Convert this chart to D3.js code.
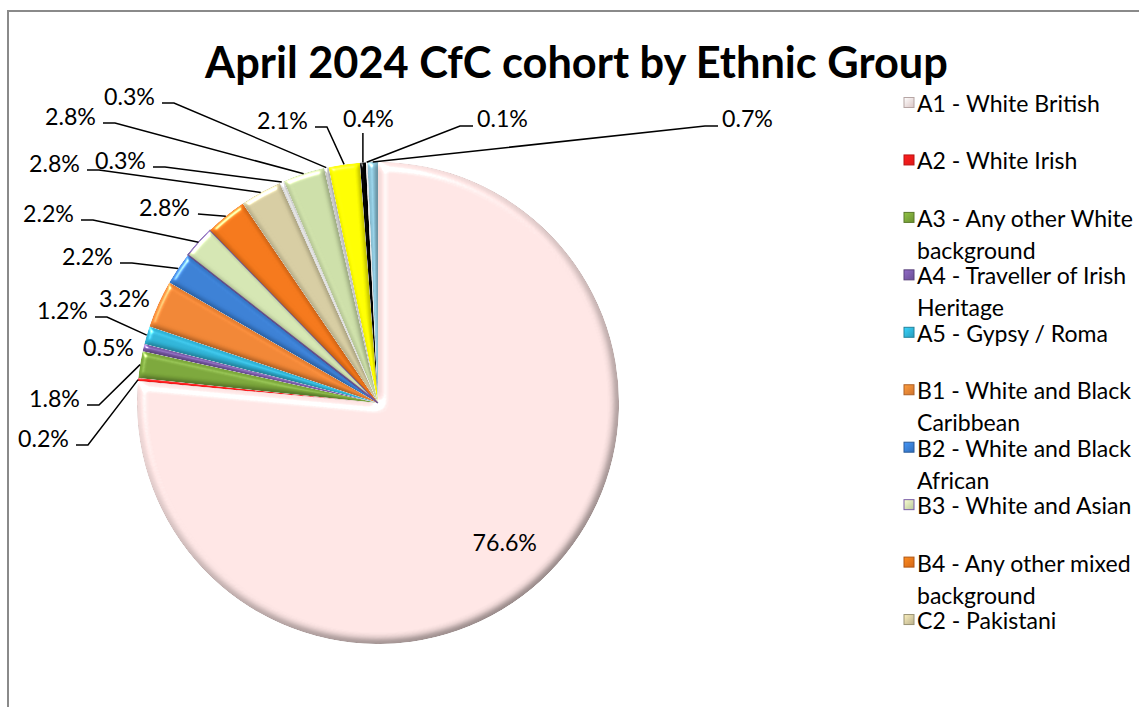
<!DOCTYPE html>
<html>
<head>
<meta charset="utf-8">
<script src="https://cdn.jsdelivr.net/npm/d3@7"></script>
<style>
  html, body { margin: 0; padding: 0; background: #ffffff; }
  svg { display: block; font-family: Lato, "Liberation Sans", sans-serif; }
</style>
</head>
<body>
<svg id="chart" width="1139" height="707"></svg>
<script>
// ---- data -------------------------------------------------------------
const titleText = "April 2024 CfC cohort by Ethnic Group";
const codes = ["A1", "A2", "A3", "A4", "A5", "B1", "B2", "B3", "B4",
               "C2", "C3", "C4", "D1", "D2", "D3", "E1", "E2"];
const groups = ["White British", "White Irish", "Any other White background",
                "Traveller of Irish Heritage", "Gypsy / Roma",
                "White and Black Caribbean", "White and Black African",
                "White and Asian", "Any other mixed background", "Pakistani",
                "Bangladeshi", "Any other Asian background", "Caribbean",
                "African", "Any other Black background", "Chinese",
                "Any other ethnic group"];
const shares = [76.6, 0.2, 1.8, 0.5, 1.2, 3.2, 2.2, 2.2, 2.8,
                2.8, 0.3, 2.8, 0.3, 2.1, 0.4, 0.1, 0.7];
const colours = ["#fbe3e2", "#ff1a1a", "#7aa53a", "#7a5aa8", "#2fb3d6",
                 "#ee8434", "#3a7ed2", "#d2e3b0", "#f2761a", "#d4caa0",
                 "#e2e2e2", "#cadca6", "#c4c4c4", "#ffff00", "#000000",
                 "#f0f0f0", "#8cc4d9"];
const edges = [null, null, null, null, null, null, null, "#7b5ea7", null,
               null, null, null, null, null, null, null, null];
const legendShown = 10;

// ---- layout -----------------------------------------------------------
const W = 1139, H = 707;
const cx = 378, cy = 403, R = 241;
// data label spots: [left x of text, middle y, leader style]
// leader style: "L" left label, "R" right label, "V" vertical, "H" short, "-" none, "in" inside
const labelSpots = [
  [null, null, "in"], [18, 438, "L"], [29, 398, "L"], [83, 347, "-"],
  [37, 310, "L"], [99, 298, "-"], [62, 256, "L"], [23, 213, "L"],
  [139, 207, "H"], [29, 163, "L"], [95, 160, "L"], [45, 116, "L"],
  [104, 96, "L"], [257, 120, "L"], [343, 118, "V"], [477, 118, "R"],
  [722, 118, "R"]
];

const svg = d3.select("#chart");
const defs = svg.append("defs");

// soft bevel applied to each wedge
function makeBevel(id, blur, scale) {
  const f = defs.append("filter").attr("id", id)
    .attr("x", "-5%").attr("y", "-5%").attr("width", "110%").attr("height", "110%")
    .attr("color-interpolation-filters", "sRGB");
  f.append("feGaussianBlur").attr("in", "SourceAlpha").attr("stdDeviation", blur).attr("result", "blur");
  f.append("feDiffuseLighting").attr("in", "blur").attr("surfaceScale", scale)
    .attr("diffuseConstant", 1).attr("lighting-color", "#ffffff").attr("result", "diff")
    .append("feDistantLight").attr("azimuth", 235).attr("elevation", 60);
  f.append("feSpecularLighting").attr("in", "blur").attr("surfaceScale", scale)
    .attr("specularConstant", 0.75).attr("specularExponent", 38)
    .attr("lighting-color", "#ffffff").attr("result", "spec")
    .append("feDistantLight").attr("azimuth", 235).attr("elevation", 40);
  // half-strength shading: flat areas keep their own colour
  f.append("feComposite").attr("in", "SourceGraphic").attr("in2", "diff")
    .attr("operator", "arithmetic").attr("k1", 0.5774).attr("k2", 0.5).attr("k3", 0).attr("k4", 0)
    .attr("result", "shaded");
  f.append("feComposite").attr("in", "spec").attr("in2", "SourceAlpha")
    .attr("operator", "in").attr("result", "specIn");
  f.append("feComposite").attr("in", "shaded").attr("in2", "specIn")
    .attr("operator", "arithmetic").attr("k1", 0).attr("k2", 1).attr("k3", 0.85).attr("k4", 0)
    .attr("result", "lit");
  f.append("feComposite").attr("in", "lit").attr("in2", "SourceAlpha").attr("operator", "in");
}
makeBevel("bevel", 2.4, 3);
makeBevel("bevelWide", 4.5, 6);

// chart frame
svg.append("rect")
  .attr("x", 8).attr("y", 11).attr("width", 1300).attr("height", 900)
  .attr("fill", "none").attr("stroke", "#8a8a8a").attr("stroke-width", 2);

// fit a font size so that a sample string spans a given width
function fitSize(sample, width, weight) {
  const t = svg.append("text").attr("font-size", 100)
    .attr("font-weight", weight || 400).text(sample);
  const w = t.node().getComputedTextLength();
  t.remove();
  return 100 * width / w;
}
const titleSize = fitSize(titleText, 743, 700);
const labelSize = fitSize("0.3%", 51, 400);
const legendSize = fitSize("A1 - White British", 183, 400);

// title
svg.append("text")
  .attr("x", 576.5).attr("y", 61)
  .attr("text-anchor", "middle").attr("dominant-baseline", "central")
  .attr("font-size", titleSize).attr("font-weight", 700).attr("fill", "#000")
  .text(titleText);

// pie
const pie = d3.pie().sort(null).value(d => d)
  .startAngle(0).endAngle(2 * Math.PI);
const arcs = pie(shares);
const arc = d3.arc().innerRadius(0).outerRadius(R);
const rim = d3.arc().innerRadius(R).outerRadius(R);
const inner = d3.arc().innerRadius(R * 0.78).outerRadius(R * 0.78);

const g = svg.append("g").attr("transform", `translate(${cx},${cy})`);
g.selectAll("path.slice").data(arcs).join("path")
  .attr("class", "slice")
  .attr("d", arc)
  .attr("fill", (d, i) => colours[i])
  .attr("stroke", (d, i) => edges[i] || "none")
  .attr("stroke-width", 1.6)
  .attr("filter", d => (d.endAngle - d.startAngle > 1) ? "url(#bevelWide)" : "url(#bevel)");

// data labels and leader lines
const fmt = v => v.toFixed(1) + "%";
const lab = svg.append("g");
arcs.forEach((d, i) => {
  const spot = labelSpots[i];
  const text = fmt(shares[i]);
  if (spot[2] === "in") {
    const c = inner.centroid(d);
    lab.append("text").attr("x", cx + c[0]).attr("y", cy + c[1])
      .attr("text-anchor", "middle").attr("dominant-baseline", "central")
      .attr("font-size", labelSize).attr("fill", "#000").text(text);
    return;
  }
  const t = lab.append("text").attr("x", spot[0]).attr("y", spot[1])
    .attr("dominant-baseline", "central")
    .attr("font-size", labelSize).attr("fill", "#000").text(text);
  const tw = t.node().getComputedTextLength();
  const p = rim.centroid(d);
  const ex = cx + p[0], ey = cy + p[1];
  let pts = null;
  if (spot[2] === "L") {
    const sx = spot[0] + tw + 7, sy = spot[1] + 7;
    pts = [[sx, sy], [sx + 12, sy], [ex, ey]];
  } else if (spot[2] === "R") {
    const sx = spot[0] - 4, sy = spot[1] + 8;
    pts = [[sx, sy], [sx - 13, sy], [ex, ey]];
  } else if (spot[2] === "V") {
    pts = [[ex, spot[1] + 15], [ex, ey]];
  } else if (spot[2] === "H") {
    const sx = spot[0] + tw + 8, sy = spot[1] + 7;
    pts = [[sx, sy], [ex, ey]];
  }
  if (pts) {
    lab.append("path").attr("d", d3.line()(pts))
      .attr("fill", "none").attr("stroke", "#000").attr("stroke-width", 1.5);
  }
});

// legend
const legX = 917, legY0 = 103, legStep = 57.45, lineGap = 32, legMax = 226;
const leg = svg.append("g");
for (let i = 0; i < legendShown; i++) {
  const y = legY0 + i * legStep;
  const base = d3.color(colours[i]);
  const grad = defs.append("linearGradient").attr("id", "key" + i)
    .attr("x1", 0).attr("y1", 0).attr("x2", 1).attr("y2", 1);
  grad.append("stop").attr("offset", 0).attr("stop-color", base.brighter(0.5));
  grad.append("stop").attr("offset", 1).attr("stop-color", base.darker(0.4));
  leg.append("rect")
    .attr("x", legX - 13).attr("y", y - 5.5).attr("width", 10).attr("height", 10)
    .attr("fill", `url(#key${i})`)
    .attr("stroke", edges[i] || base.darker(0.9))
    .attr("stroke-width", 1);
  // word-wrap the entry text to the legend width
  const words = (codes[i] + " - " + groups[i]).split(" ");
  const lines = [];
  let cur = "";
  const probe = leg.append("text").attr("font-size", legendSize);
  words.forEach(w => {
    const trial = cur ? cur + " " + w : w;
    probe.text(trial);
    if (probe.node().getComputedTextLength() > legMax && cur) {
      lines.push(cur);
      cur = w;
    } else {
      cur = trial;
    }
  });
  lines.push(cur);
  probe.remove();
  lines.forEach((ln, k) => {
    leg.append("text").attr("x", legX).attr("y", y + k * lineGap)
      .attr("dominant-baseline", "central")
      .attr("font-size", legendSize).attr("fill", "#000").text(ln);
  });
}
</script>
</body>
</html>
